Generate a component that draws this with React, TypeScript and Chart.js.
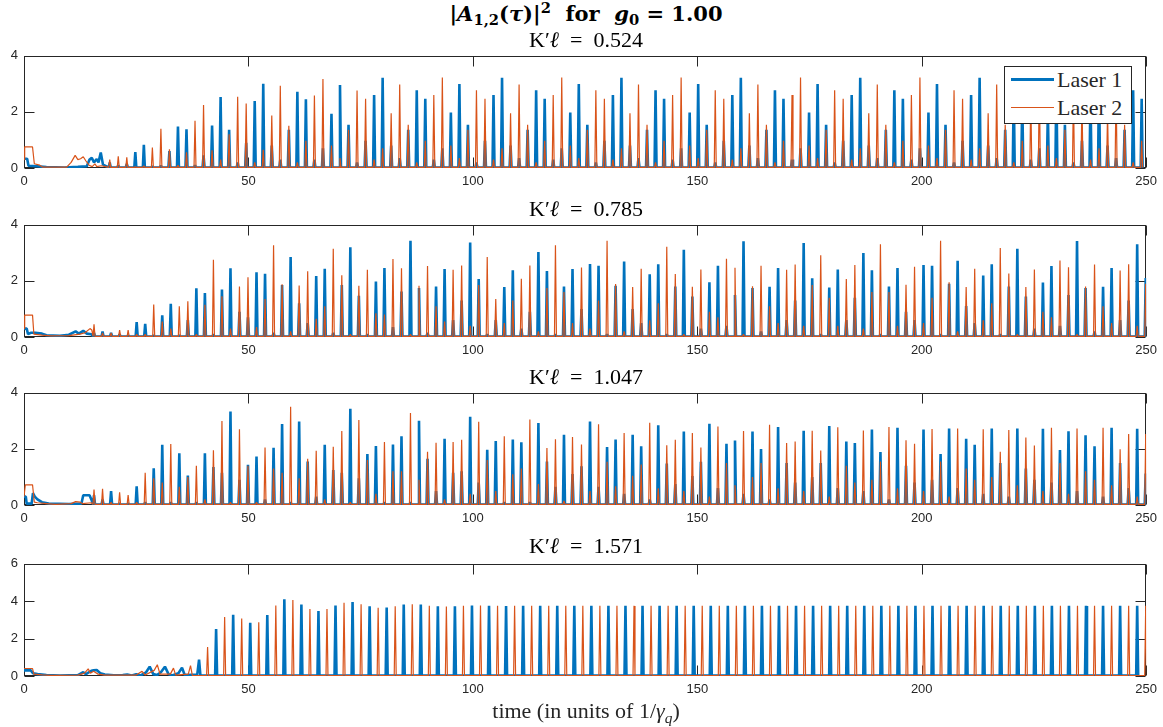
import React, { useEffect, useRef } from "react";
import { Chart, registerables } from "chart.js";

Chart.register(...registerables);

// ---------- styling constants ----------
const BLUE = "#0072BD";
const ORANGE = "#D95319";
const AXIS = "#262626";
const HW = 0.22; // half-width of a spike, in time units
const BASE = 0.02;

// ---------- shared axis values ----------
const xTickValues = [0, 50, 100, 150, 200, 250];
const panelTitles = ["0.524", "0.785", "1.047", "1.571"];

// ---------- Panel 1 : K'l = 0.524 ----------
const kl1EarlyLaser1 = [
  [0, 0.33], [0.7, 0.33], [1.0, 0.08], [3, 0.06], [5, 0.03], [9, 0.02], [12, 0.04], [14, 0.06],
  [14.6, 0.3], [15.1, 0.36], [15.6, 0.2], [16.2, 0.32], [16.6, 0.2], [17.1, 0.55], [17.6, 0.12], [18.5, 0.05],
];
const kl1EarlyLaser2 = [
  [0, 0.3], [0.15, 0.75], [1.9, 0.75], [2.3, 0.15], [3.5, 0.1], [4.2, 0.03], [9.5, 0.03], [10.5, 0.2],
  [11.4, 0.45], [12.0, 0.3], [12.6, 0.33], [13.2, 0.4], [13.8, 0.25], [14.5, 0.1], [15.2, 0.05],
  [15.8, 0.15], [16.2, 0.05], [17.2, 0.08], [18.5, 0.04],
];
const kl1Times = [
  19.1, 21.0, 22.9, 24.8, 26.7, 28.6, 30.5, 32.4, 34.3, 36.2,
  38.1, 40.0, 41.9, 43.8, 45.7, 47.6, 49.5, 51.4, 53.3, 55.2,
  57.1, 59.0, 60.9, 62.8, 64.7, 66.6, 68.5, 70.4, 72.3, 74.2,
  76.1, 78.0, 79.9, 81.8, 83.7, 85.6, 87.5, 89.4, 91.3, 93.2,
  95.1, 97.0, 98.9, 100.8, 102.7, 104.6, 106.5, 108.4, 110.3, 112.2,
  114.1, 116.0, 117.9, 119.8, 121.7, 123.6, 125.5, 127.4, 129.3, 131.2,
  133.1, 135.0, 136.9, 138.8, 140.7, 142.6, 144.5, 146.4, 148.3, 150.2,
  152.1, 154.0, 155.9, 157.8, 159.7, 161.6, 163.5, 165.4, 167.3, 169.2,
  171.1, 173.0, 174.9, 176.8, 178.7, 180.6, 182.5, 184.4, 186.3, 188.2,
  190.1, 192.0, 193.9, 195.8, 197.7, 199.6, 201.5, 203.4, 205.3, 207.2,
  209.1, 211.0, 212.9, 214.8, 216.7, 218.6, 220.5, 222.4, 224.3, 226.2,
  228.1, 230.0, 231.9, 233.8, 235.7, 237.6, 239.5, 241.4, 243.3, 245.2,
  247.1, 249.0,
];
const kl1Laser1 = [
  0.2, 0.1, 0.15,
  0.57, 0.83, 0.05, 0.08, 0.6, 1.48, 1.38, 0.1, 0.45, 1.51, 2.53, 1.36, 0.2, 0.9,
  2.39, 3.0, 0.8, 0.3, 1.36, 2.72, 2.45, 0.3, 0.7, 1.93, 2.96, 1.54, 0.2, 0.97,
  2.6, 3.22, 0.8, 0.35, 1.36, 2.77, 2.47, 0.3, 0.7, 1.98, 2.99, 1.54, 0.2, 0.97,
  2.6, 3.22, 0.8, 0.35, 1.36, 2.77, 2.47, 0.3, 0.7, 1.98, 2.99, 1.54, 0.2, 0.97,
  2.6, 3.22, 0.8, 0.35, 1.36, 2.77, 2.47, 0.3, 0.7, 1.98, 2.99, 1.54, 0.2, 0.97,
  2.6, 3.22, 0.8, 0.35, 1.36, 2.77, 2.47, 0.3, 0.7, 1.98, 2.99, 1.54, 0.2, 0.97,
  2.6, 3.22, 0.8, 0.35, 1.36, 2.77, 2.47, 0.3, 0.7, 1.98, 2.99, 1.54, 0.2, 0.97,
  2.6, 3.22, 0.8, 0.35, 1.36, 2.77, 2.47, 0.3, 0.7, 1.98, 2.99, 1.54, 0.2, 0.97,
  2.6, 3.22, 0.8, 0.35, 1.36, 2.77, 2.47,
];
const kl1Laser2 = [
  0.3, 0.42, 0.38,
  0.05, 0.08, 0.73, 1.4, 0.67, 0.1, 0.56, 1.68, 2.25, 0.63, 0.3, 1.2, 2.54, 2.3,
  0.2, 0.65, 1.87, 2.93, 1.51, 0.2, 0.97, 2.58, 3.17, 0.8, 0.35, 1.36, 2.76, 2.47,
  0.3, 0.7, 1.95, 2.98, 1.54, 0.2, 0.97, 2.6, 3.23, 0.8, 0.35, 1.36, 2.77, 2.47,
  0.3, 0.7, 1.95, 2.98, 1.54, 0.2, 0.97, 2.6, 3.23, 0.8, 0.35, 1.36, 2.77, 2.47,
  0.3, 0.7, 1.95, 2.98, 1.54, 0.2, 0.97, 2.6, 3.23, 0.8, 0.35, 1.36, 2.77, 2.47,
  0.3, 0.7, 1.95, 2.98, 1.54, 0.2, 0.97, 2.6, 3.23, 0.8, 0.35, 1.36, 2.77, 2.47,
  0.3, 0.7, 1.95, 2.98, 1.54, 0.2, 0.97, 2.6, 3.23, 0.8, 0.35, 1.36, 2.77, 2.47,
  0.3, 0.7, 1.95, 2.98, 1.54, 0.2, 0.97, 2.6, 3.23, 0.8, 0.35, 1.36, 2.77, 2.47,
  0.3, 0.7, 1.95, 2.98, 1.54, 0.2, 0.97,
];

// ---------- Panels 2 & 3 share the spike instants ----------
const kl23Times = [
  15.6, 17.5, 19.4, 21.3, 23.2, 25.1, 27.0, 28.9, 30.8, 32.7,
  34.6, 36.5, 38.4, 40.3, 42.2, 44.1, 46.0, 48.0, 49.9, 51.8,
  53.7, 55.6, 57.5, 59.4, 61.3, 63.2, 65.1, 67.0, 68.9, 70.8,
  72.7, 74.6, 76.5, 78.4, 80.3, 82.2, 84.1, 86.1, 88.0, 89.9,
  91.8, 93.7, 95.6, 97.5, 99.4, 101.3, 103.2, 105.1, 107.0, 108.9,
  110.8, 112.7, 114.6, 116.5, 118.4, 120.3, 122.2, 124.2, 126.1, 128.0,
  129.9, 131.8, 133.7, 135.6, 137.5, 139.4, 141.3, 143.2, 145.1, 147.0,
  148.9, 150.8, 152.7, 154.6, 156.5, 158.4, 160.3, 162.3, 164.2, 166.1,
  168.0, 169.9, 171.8, 173.7, 175.6, 177.5, 179.4, 181.3, 183.2, 185.1,
  187.0, 188.9, 190.8, 192.7, 194.6, 196.5, 198.4, 200.4, 202.3, 204.2,
  206.1, 208.0, 209.9, 211.8, 213.7, 215.6, 217.5, 219.4, 221.3, 223.2,
  225.1, 227.0, 228.9, 230.8, 232.7, 234.6, 236.5, 238.5, 240.4, 242.3,
  244.2, 246.1, 248.0, 249.9,
];

// ---------- Panel 2 : K'l = 0.785 ----------
const kl2EarlyLaser1 = [
  [0, 0.3], [0.6, 0.3], [0.9, 0.1], [1.5, 0.15], [2.5, 0.15], [4, 0.12], [5, 0.06], [8, 0.04],
  [10, 0.08], [11.5, 0.2], [12.2, 0.12], [13.2, 0.22], [14, 0.12], [15.0, 0.1],
];
const kl2EarlyLaser2 = [
  [0, 0.3], [0.15, 0.78], [1.9, 0.78], [2.2, 0.1], [4, 0.07], [6, 0.04], [10, 0.05], [12.5, 0.1],
  [13.6, 0.15], [14.7, 0.3], [15.1, 0.25],
];
const kl2Laser1 = [
  0.15, 0.2, 0.15, 0.1, 0.05, 0.53, 0.47, 0.05, 0.77, 1.18,
  0.05, 0.6, 1.74, 1.57, 0.1, 1.69, 2.45, 0.9, 0.7, 2.31,
  2.25, 0.15, 1.85, 2.85, 1.2, 0.5, 2.17, 2.43, 0.15, 1.85,
  3.2, 1.47, 0.1, 1.98, 2.46, 0.35, 1.62, 3.43, 1.75, 0.15,
  1.8, 2.42, 0.6, 1.3, 3.37, 2.07, 0.1, 0.6, 1.78, 2.38,
  0.3, 0.9, 3.03, 2.35, 0.1, 1.8, 2.42, 1.0, 2.6, 2.54,
  0.1, 1.83, 2.69, 1.0, 0.5, 2.24, 2.59, 0.1, 1.8, 3.11,
  1.44, 0.3, 1.95, 2.54, 0.4, 1.5, 3.41, 1.75, 0.2, 1.79,
  2.46, 0.6, 1.3, 3.35, 2.09, 0.1, 1.76, 2.41, 0.6, 1.4,
  2.99, 2.38, 0.1, 1.8, 2.46, 0.9, 0.6, 2.57, 2.54, 0.1,
  1.9, 2.72, 1.1, 0.5, 2.19, 2.59, 0.1, 1.8, 3.15, 1.44,
  0.3, 1.94, 2.53, 0.4, 1.5, 3.42, 1.75, 0.2, 1.79, 2.46,
  0.6, 1.3, 3.31, 2.1,
];
const kl2Laser2 = [
  0.45, 0.15, 0.15, 0.25, 0.25, 0.1, 0.1, 1.16, 0.55, 0.3,
  1.1, 1.27, 0.1, 1.15, 2.75, 1.45, 0.3, 1.8, 2.13, 0.35,
  1.35, 3.27, 1.88, 0.2, 1.84, 2.34, 0.65, 1.1, 3.15, 2.2,
  0.1, 1.83, 2.4, 0.85, 0.8, 2.78, 2.45, 0.1, 1.83, 2.53,
  1.1, 0.55, 2.4, 2.55, 0.4, 1.85, 2.85, 1.35, 0.5, 1.3,
  2.08, 2.55, 0.2, 1.75, 3.27, 1.6, 0.5, 2.48, 0.3, 1.3,
  3.43, 1.89, 0.2, 1.78, 2.43, 0.6, 1.2, 3.22, 2.25, 0.1,
  1.79, 2.41, 0.9, 0.7, 2.79, 2.47, 0.1, 1.81, 2.54, 1.1,
  0.5, 2.4, 2.58, 0.4, 1.85, 2.91, 1.4, 0.4, 2.07, 2.57,
  0.3, 1.6, 3.31, 1.6, 0.4, 1.86, 2.5, 0.5, 1.4, 3.43,
  1.95, 0.2, 1.78, 2.43, 0.6, 1.2, 3.17, 2.26, 0.1, 1.78,
  2.41, 0.9, 0.7, 2.73, 2.49, 0.1, 1.8, 2.58, 1.1, 0.5,
  2.37, 2.59, 0.4, 1.9,
];

// ---------- Panel 3 : K'l = 1.047 ----------
const kl3EarlyLaser1 = [
  [0, 0.3], [0.4, 0.3], [0.6, 0.05], [1.7, 0.05], [2.0, 0.42], [2.4, 0.3], [3, 0.2], [4, 0.1],
  [5.5, 0.05], [10, 0.03], [12.8, 0.05], [13.2, 0.35], [14.6, 0.35], [15.0, 0.2],
];
const kl3EarlyLaser2 = [
  [0, 0.3], [0.3, 0.72], [1.9, 0.72], [2.3, 0.1], [3, 0.08], [5, 0.05], [7, 0.02], [10.5, 0.05],
  [11.5, 0.12], [12.5, 0.1], [13, 0.05], [15.0, 0.08],
];
const kl3Laser1 = [
  0.35, 0.2, 0.5, 0.05, 0.05, 0.67, 0.1, 1.31, 2.15, 0.1,
  1.84, 1.05, 0.1, 1.84, 1.35, 1.15, 3.33, 0.9, 1.43, 1.73,
  0.2, 2.04, 2.89, 0.1, 2.98, 1.55, 0.3, 2.15, 1.25, 1.15,
  3.43, 0.95, 1.82, 2.1, 0.1, 2.16, 2.45, 0.1, 3.0, 1.65,
  0.5, 2.36, 1.15, 1.2, 3.15, 0.8, 1.97, 2.28, 0.1, 2.33,
  2.24, 0.1, 2.92, 1.55, 0.65, 2.5, 1.1, 1.38, 2.98, 0.65,
  2.07, 2.33, 0.4, 2.5, 2.09, 0.2, 2.84, 1.48, 0.75, 2.62,
  1.03, 1.54, 2.9, 0.6, 2.18, 2.3, 0.4, 2.62, 2.0, 0.2,
  2.78, 1.5, 0.8, 2.65, 1.0, 1.5, 2.82, 0.6, 2.26, 2.21,
  0.5, 2.69, 1.89, 0.2, 2.75, 1.4, 0.8, 2.69, 0.9, 1.82,
  2.73, 0.6, 2.36, 2.15, 0.4, 2.73, 1.5, 0.3, 2.73, 1.3,
  0.9, 2.72, 0.8, 1.96, 2.63, 0.5, 2.49, 2.09, 0.3, 2.75,
  1.5, 0.6, 2.72, 1.12,
];
const kl3Laser2 = [
  0.55, 0.58, 0.1, 0.45, 0.35, 0.1, 1.15, 0.95, 0.8, 2.17,
  0.65, 1.0, 1.4, 0.2, 1.95, 2.99, 0.1, 2.7, 1.4, 0.1,
  2.05, 1.3, 1.15, 3.5, 0.95, 1.65, 1.93, 0.2, 2.08, 2.64,
  0.1, 3.03, 1.6, 0.4, 2.25, 1.2, 1.2, 3.28, 0.9, 1.9,
  2.22, 0.2, 2.25, 2.33, 0.4, 2.97, 1.6, 0.5, 2.45, 1.1,
  1.3, 3.05, 0.75, 2.03, 2.34, 0.15, 2.42, 2.16, 0.5, 2.88,
  1.54, 0.67, 2.57, 1.04, 1.44, 2.93, 0.6, 2.13, 2.33, 0.5,
  2.57, 2.05, 0.3, 2.8, 1.5, 0.7, 2.64, 1.0, 1.5, 2.86,
  0.6, 2.21, 2.26, 0.5, 2.65, 1.94, 0.3, 2.77, 1.4, 0.8,
  2.66, 0.9, 1.55, 2.78, 0.6, 2.31, 2.18, 0.5, 2.71, 1.55,
  0.3, 2.73, 1.3, 0.9, 2.7, 1.0, 1.9, 2.67, 0.7, 2.41,
  2.12, 0.5, 2.75, 1.5, 0.4, 2.73, 1.2, 0.9, 2.75, 0.7,
  1.99, 2.53, 0.3, 2.53,
];

// ---------- Panel 4 : K'l = 1.571 ----------
const kl4EarlyLaser1 = [
  [0, 0.3], [1.5, 0.3], [2.0, 0.15], [3, 0.1], [5, 0.05], [8, 0.02], [12, 0.05], [13.2, 0.2],
  [13.8, 0.1], [15.0, 0.28], [15.5, 0.3], [16.2, 0.32], [17, 0.15], [18, 0.08], [20, 0.04],
  [22, 0.05], [23, 0.08], [24, 0.03], [25, 0.1], [26, 0.03], [27.2, 0.2], [28.0, 0.5], [28.8, 0.1],
  [29.6, 0.05], [30.5, 0.2], [31.4, 0.5], [32.2, 0.1], [33, 0.03], [34.4, 0.15], [35.2, 0.45],
  [35.8, 0.05], [38.6, 0.08], [39.0, 0.87], [39.3, 0.03], [40.5, 0.02],
];
const kl4EarlyLaser2 = [
  [0, 0.4], [1.9, 0.4], [2.2, 0.1], [4, 0.06], [6, 0.03], [12, 0.05], [13.5, 0.15], [14.3, 0.38],
  [14.8, 0.15], [15.5, 0.25], [16.5, 0.1], [18, 0.05], [25, 0.05], [26.3, 0.25], [27, 0.05],
  [29, 0.3], [29.7, 0.6], [30.3, 0.1], [32.6, 0.1], [33.3, 0.42], [33.8, 0.05], [36.6, 0.1],
  [37.1, 0.55], [37.5, 0.03], [40.5, 0.02],
];
const kl4Laser1Times = [
  42.8, 46.6, 50.4, 54.2, 58.0, 61.8, 65.6, 69.4, 73.2, 77.0,
  80.8, 84.6, 88.4, 92.2, 96.0, 99.8, 103.6, 107.4, 111.2, 115.0,
  118.8, 122.6, 126.4, 130.2, 134.0, 137.8, 141.6, 145.4, 149.2, 153.0,
  156.8, 160.6, 164.4, 168.2, 172.0, 175.8, 179.6, 183.4, 187.2, 191.0,
  194.8, 198.6, 202.4, 206.2, 210.0, 213.8, 217.6, 221.4, 225.2, 229.0,
  232.8, 236.6, 240.4, 244.2, 248.0,
];
const kl4Laser1 = [
  2.51, 3.27, 2.85, 3.26, 4.1, 3.82, 3.47, 3.77, 3.95, 3.73,
  3.66, 3.82, 3.82, 3.73, 3.73, 3.77, 3.75, 3.74, 3.75, 3.75,
  3.75, 3.75, 3.75, 3.75, 3.75, 3.75, 3.75, 3.75, 3.75, 3.75,
  3.75, 3.75, 3.75, 3.75, 3.75, 3.75, 3.75, 3.75, 3.75, 3.75,
  3.75, 3.75, 3.75, 3.75, 3.75, 3.75, 3.75, 3.75, 3.75, 3.75,
  3.75, 3.75, 3.75, 3.75, 3.75,
];
const kl4Laser2Times = [
  40.9, 44.7, 48.5, 52.3, 56.1, 59.9, 63.7, 67.5, 71.3, 75.1,
  78.9, 82.7, 86.5, 90.3, 94.1, 97.9, 101.7, 105.5, 109.3, 113.1,
  116.9, 120.7, 124.5, 128.3, 132.1, 135.9, 139.7, 143.5, 147.3, 151.1,
  154.9, 158.7, 162.5, 166.3, 170.1, 173.9, 177.7, 181.5, 185.3, 189.1,
  192.9, 196.7, 200.5, 204.3, 208.1, 211.9, 215.7, 219.5, 223.3, 227.1,
  230.9, 234.7, 238.5, 242.3, 246.1, 249.9,
];
const kl4Laser2 = [
  1.55, 3.15, 3.08, 2.88, 3.77, 4.07, 3.58, 3.58, 3.91, 3.84,
  3.65, 3.73, 3.84, 3.75, 3.72, 3.75, 3.77, 3.75, 3.75, 3.75,
  3.75, 3.75, 3.75, 3.75, 3.75, 3.75, 3.75, 3.75, 3.75, 3.75,
  3.75, 3.75, 3.75, 3.75, 3.75, 3.75, 3.75, 3.75, 3.75, 3.75,
  3.75, 3.75, 3.75, 3.75, 3.75, 3.75, 3.75, 3.75, 3.75, 3.75,
  3.75, 3.75, 3.75, 3.75, 3.75, 3.75,
];

// ---------- helpers ----------
function spikeSeries(early: number[][], times: number[], values: number[]) {
  const pts: { x: number; y: number }[] = early.map(([x, y]) => ({ x, y }));
  times.forEach((t, i) => {
    pts.push({ x: t - HW, y: BASE }, { x: t, y: values[i] }, { x: t + HW, y: BASE });
  });
  return pts;
}

const boxPlugin = {
  id: "matlabBox",
  beforeDatasetsDraw(chart: any) {
    const { ctx, chartArea: a, scales } = chart;
    const x = scales.x;
    const y = scales.y;
    ctx.save();
    ctx.strokeStyle = AXIS;
    ctx.lineWidth = 1;
    const L = Math.round(a.left) + 0.5;
    const R = Math.round(a.right) - 0.5;
    const T = Math.round(a.top) + 0.5;
    const B = Math.round(a.bottom) - 0.5;
    ctx.strokeRect(L, T, R - L, B - T);
    ctx.beginPath();
    x.ticks.forEach((tk: any) => {
      const px = Math.round(x.getPixelForValue(tk.value)) + 0.5;
      ctx.moveTo(px, B);
      ctx.lineTo(px, B - 10);
      ctx.moveTo(px, T);
      ctx.lineTo(px, T + 10);
    });
    y.ticks.forEach((tk: any) => {
      const py = Math.round(y.getPixelForValue(tk.value)) + 0.5;
      ctx.moveTo(L, py);
      ctx.lineTo(L + 10, py);
      ctx.moveTo(R, py);
      ctx.lineTo(R - 10, py);
    });
    ctx.stroke();
    ctx.restore();
  },
};

const PANEL_TOPS = [52, 221, 389, 560];
const PLOT_H = 116;
const CANVAS_H = 10 + PLOT_H + 30;
const TICK_FONT = { family: '"Liberation Sans", Arial, sans-serif', size: 13 };

type PanelProps = {
  top: number;
  yMax: number;
  laser1: { x: number; y: number }[];
  laser2: { x: number; y: number }[];
};

function Panel({ top, yMax, laser1, laser2 }: PanelProps) {
  const ref = useRef<HTMLCanvasElement | null>(null);
  useEffect(() => {
    if (!ref.current) return;
    const chart = new Chart(ref.current, {
      type: "line",
      data: {
        datasets: [
          {
            label: "Laser 1",
            data: laser1,
            borderColor: BLUE,
            borderWidth: 2.6,
            pointRadius: 0,
            tension: 0,
            order: 1,
            borderJoinStyle: "bevel",
          },
          {
            label: "Laser 2",
            data: laser2,
            borderColor: ORANGE,
            borderWidth: 1.2,
            pointRadius: 0,
            tension: 0,
            order: 0,
            borderJoinStyle: "bevel",
          },
        ],
      },
      options: {
        animation: false,
        responsive: false,
        maintainAspectRatio: false,
        devicePixelRatio: 1,
        parsing: false,
        normalized: true,
        layout: { padding: { left: 0, right: 16, top: 10, bottom: 0 } },
        plugins: {
          legend: { display: false },
          tooltip: { enabled: false },
          title: { display: false },
        },
        scales: {
          x: {
            type: "linear",
            min: 0,
            max: 250,
            afterBuildTicks: (s: any) => {
              s.ticks = xTickValues.map((v) => ({ value: v }));
            },
            ticks: { font: TICK_FONT, color: AXIS, padding: 6, maxRotation: 0, autoSkip: false },
            grid: { display: false, drawTicks: false },
            border: { display: false },
            afterFit: (s: any) => {
              s.height = 30;
            },
          },
          y: {
            type: "linear",
            min: 0,
            max: yMax,
            ticks: { stepSize: 2, font: TICK_FONT, color: AXIS, padding: 6 },
            grid: { display: false, drawTicks: false },
            border: { display: false },
            afterFit: (s: any) => {
              s.width = 24;
            },
          },
        },
      } as any,
      plugins: [boxPlugin],
    });
    return () => chart.destroy();
  }, []);
  return (
    <canvas
      ref={ref}
      width={1163}
      height={CANVAS_H}
      style={{ position: "absolute", left: 0, top: top - 10, width: 1163, height: CANVAS_H }}
    />
  );
}

const serif = '"Liberation Serif", "Times New Roman", serif';
const subStyle: React.CSSProperties = { fontSize: "0.7em", verticalAlign: "-0.3em", lineHeight: 0 };
const supStyle: React.CSSProperties = { fontSize: "0.7em", verticalAlign: "0.55em", lineHeight: 0 };

function CenterText({ cy, fs, bold, color, family, spacing, children }: any) {
  return (
    <div
      style={{
        position: "absolute",
        left: 586 - 400,
        width: 800,
        top: cy - fs * 0.62,
        textAlign: "center",
        fontFamily: family || serif,
        fontSize: fs,
        lineHeight: `${fs * 1.2}px`,
        fontWeight: bold ? "bold" : "normal",
        color: color || "#000",
        whiteSpace: "pre",
        letterSpacing: spacing || 0,
      }}
    >
      {children}
    </div>
  );
}

export default function App() {
  const panels = [
    { l1: spikeSeries(kl1EarlyLaser1, kl1Times, kl1Laser1), l2: spikeSeries(kl1EarlyLaser2, kl1Times, kl1Laser2), yMax: 4 },
    { l1: spikeSeries(kl2EarlyLaser1, kl23Times, kl2Laser1), l2: spikeSeries(kl2EarlyLaser2, kl23Times, kl2Laser2), yMax: 4 },
    { l1: spikeSeries(kl3EarlyLaser1, kl23Times, kl3Laser1), l2: spikeSeries(kl3EarlyLaser2, kl23Times, kl3Laser2), yMax: 4 },
    { l1: spikeSeries(kl4EarlyLaser1, kl4Laser1Times, kl4Laser1), l2: spikeSeries(kl4EarlyLaser2, kl4Laser2Times, kl4Laser2), yMax: 6 },
  ];
  const subtitleY = [41, 210, 378, 547];
  return (
    <div style={{ position: "absolute", left: 0, top: 0, width: 1163, height: 727, background: "#fff", overflow: "hidden" }}>
      {panels.map((p, i) => (
        <Panel key={i} top={PANEL_TOPS[i]} yMax={p.yMax} laser1={p.l1} laser2={p.l2} />
      ))}
      <CenterText cy={14} fs={21} bold family={'"DejaVu Serif", serif'}>
        |<i>A</i>
        <sub style={subStyle}>1,2</sub>(<i>τ</i>)|<sup style={supStyle}>2</sup>{"  for  "}<i>g</i>
        <sub style={subStyle}>0</sub>{" = 1.00"}
      </CenterText>
      {panelTitles.map((t, i) => (
        <CenterText key={i} cy={subtitleY[i]} fs={22}>
          K′<i>ℓ</i>{"  =  "}{t}
        </CenterText>
      ))}
      <CenterText cy={712} fs={22} color={AXIS}>
        time (in units of 1/<i>γ</i>
        <sub style={subStyle}>
          <i>q</i>
        </sub>
        )
      </CenterText>
      <div
        style={{
          position: "absolute",
          left: 1004,
          top: 66,
          width: 126,
          height: 56,
          border: `1px solid ${AXIS}`,
          background: "#fff",
        }}
      >
        <div style={{ position: "absolute", left: 6, top: 11, width: 43, height: 3, background: BLUE }} />
        <div style={{ position: "absolute", left: 6, top: 40, width: 43, height: 1.3, background: ORANGE }} />
        <div style={{ position: "absolute", left: 52, top: -1, fontFamily: serif, fontSize: 22, lineHeight: "27px", color: AXIS, whiteSpace: "nowrap" }}>
          Laser 1
        </div>
        <div style={{ position: "absolute", left: 52, top: 27, fontFamily: serif, fontSize: 22, lineHeight: "27px", color: AXIS, whiteSpace: "nowrap" }}>
          Laser 2
        </div>
      </div>
    </div>
  );
}
